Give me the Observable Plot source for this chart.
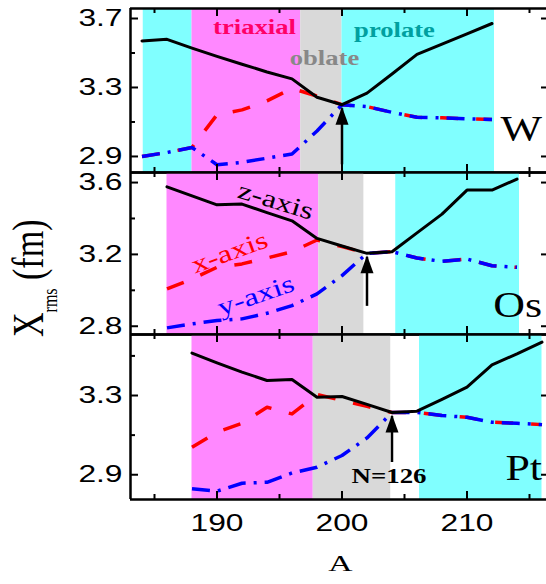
<!DOCTYPE html>
<html><head><meta charset="utf-8">
<script src="https://cdn.jsdelivr.net/npm/d3@7"></script>
<script src="https://cdn.jsdelivr.net/npm/@observablehq/plot@0.6"></script>
<style>
body{margin:0;background:#fff}
#chart{position:relative;width:546px;height:584px;overflow:hidden;background:#fff}
#chart svg{position:absolute;left:0}
</style>
</head><body><div id="chart"></div>
<script>
// ---------- data ----------
const xDomain = [183.08, 216.36];
const xMajor = [190, 200, 210];
const xMinor = [185, 195, 205, 215];

// W
const W_A = [184,186,188,190,192,194,196,198,200,202,204,206,208,210,212];
const W_z = [3.570,3.579,3.528,3.480,3.435,3.390,3.350,3.243,3.200,3.267,3.378,3.492,3.552,3.611,3.671];
const W_x = [2.900,2.923,2.952,3.142,3.170,3.222,3.295,3.250,3.200,3.189,3.156,3.127,3.124,3.118,3.114];
const W_y = [2.900,2.923,2.952,2.852,2.866,2.890,2.914,3.048,3.200,3.189,3.156,3.127,3.124,3.118,3.114];
const W_bandStart = [184.1, 188, 196.7, 200];
const W_bandEnd   = [188, 196.7, 200, 212.2];
const W_bandColor = ["#80ffff", "#ff88ff", "#d9d9d9", "#80ffff"];
const W_yDomain = [2.807, 3.758];
const W_yMajor = [2.9, 3.3, 3.7];
const W_yMinor = [3.1, 3.5];

// Os
const Os_A = [186,188,190,192,194,196,198,200,202,204,206,208,210,212,214];
const Os_z = [3.576,3.526,3.476,3.480,3.433,3.387,3.289,3.247,3.206,3.215,3.320,3.424,3.558,3.558,3.619];
const Os_x = [3.008,3.063,3.128,3.147,3.180,3.215,3.280,3.243,3.206,3.215,3.180,3.161,3.174,3.137,3.128];
const Os_y = [2.791,2.813,2.832,2.841,2.872,2.915,2.980,3.082,3.206,3.215,3.180,3.161,3.174,3.137,3.128];
const Os_bandStart = [186, 198.15, 204.3];
const Os_bandEnd   = [198.15, 201.75, 214.2];
const Os_bandColor = ["#ff88ff", "#d9d9d9", "#80ffff"];
const Os_yDomain = [2.754, 3.656];
const Os_yMajor = [2.8, 3.2, 3.6];
const Os_yMinor = [3.0, 3.4];

// Pt
const Pt_A = [188,190,192,194,196,198,200,202,204,206,208,210,212,214,216];
const Pt_z = [3.514,3.465,3.418,3.376,3.381,3.291,3.295,3.255,3.214,3.221,3.280,3.342,3.455,3.510,3.570];
const Pt_x = [3.039,3.115,3.160,3.241,3.207,3.305,3.275,3.245,3.214,3.215,3.199,3.190,3.165,3.160,3.153];
const Pt_y = [2.829,2.817,2.857,2.862,2.909,2.938,2.997,3.086,3.214,3.215,3.199,3.190,3.165,3.160,3.153];
const Pt_bandStart = [188, 197.7, 206.2];
const Pt_bandEnd   = [197.7, 203.9, 216];
const Pt_bandColor = ["#ff88ff", "#d9d9d9", "#80ffff"];
const Pt_yDomain = [2.775, 3.608];
const Pt_yMajor = [2.9, 3.3];
const Pt_yMinor = [3.1, 3.5];

// arrows (N = 126)
const arrowA    = [200, 202, 204];
const arrowTip  = [3.200, 3.206, 3.214];
const arrowBase = [2.875, 2.933, 2.982];

// annotations
const shapeLabels = ["triaxial", "oblate", "prolate"];
const shapeLabelA = [193.0, 198.6, 204.2];
const shapeLabelV = [3.646, 3.469, 3.632];
const shapeLabelColor = ["#ff0066", "#888888", "#00a0a0"];

const axisLabels = ["z-axis", "x-axis", "y-axis"];
const axisLabelA = [194.7, 191.0, 193.1];
const axisLabelV = [3.498, 3.211, 2.971];
const axisLabelColor = ["#000000", "#ff0000", "#0000ff"];
const axisLabelRotate = [17, -20, -19];

const elements = ["W", "Os", "Pt"];
const elementV = [3.055, 2.915, 2.934];

// ---------- drawing ----------
const arrowHead = {draw(ctx) { ctx.moveTo(0, 0); ctx.lineTo(6.5, 18); ctx.lineTo(-6.5, 18); ctx.closePath(); }};
const FW = 546 - 130;

function panel(p) {
  const rows = p.A.map((a, i) => ({A: a, z: p.z[i], x: p.x[i], y: p.y[i]}));
  const bands = p.bandStart.map((s, i) => ({x1: s, x2: p.bandEnd[i], fill: p.bandColor[i]}));
  const arrow = {A: arrowA[p.k], tip: arrowTip[p.k], base: arrowBase[p.k]};
  const fh = p.height - p.marginTop - p.marginBottom;
  const marks = [
    Plot.rect(bands, {x1: "x1", x2: "x2", y1: () => p.yDomain[0], y2: () => p.yDomain[1], fill: "fill"}),
    Plot.line(rows, {x: "A", y: "x", stroke: "#ff0000", strokeWidth: 3.5, strokeDasharray: "18,18", strokeLinecap: "butt"}),
    Plot.line(rows, {x: "A", y: "y", stroke: "#0000ff", strokeWidth: 3.5, strokeDasharray: "18,8,3,8", strokeLinecap: "butt"}),
    Plot.line(rows, {x: "A", y: "z", stroke: "#000", strokeWidth: 3}),
    Plot.ruleX([arrow], {x: "A", y1: "base", y2: "tip", strokeWidth: 2.5, dy: 4}),
    Plot.dot([arrow], {x: "A", y: "tip", symbol: arrowHead, fill: "#000", stroke: "none", dy: 2}),
    Plot.text([elements[p.k]], {x: () => 216.0, y: () => elementV[p.k], text: d => d, textAnchor: "end",
      fontFamily: "Liberation Serif", fontSize: 36, fill: "#000", ariaDescription: "stretch:1.22"}),
    ...(p.extra || []),
    Plot.tickY(p.yMajor, {y: d => d, insetRight: FW - 8, strokeWidth: 2}),
    Plot.tickY(p.yMinor, {y: d => d, insetRight: FW - 5, strokeWidth: 2}),
    Plot.tickY(p.yMajor, {y: d => d, insetLeft: FW - 5, strokeWidth: 2}),
    Plot.tickX(xMajor, {x: d => d, insetBottom: fh - 8, strokeWidth: 2}),
    Plot.tickX(xMinor, {x: d => d, insetBottom: fh - 5, strokeWidth: 2}),
    Plot.tickX(xMajor, {x: d => d, insetTop: fh - 8, strokeWidth: 2}),
    Plot.tickX(xMinor, {x: d => d, insetTop: fh - 5, strokeWidth: 2}),
    Plot.axisY({ticks: p.yMajor, tickSize: 0, tickPadding: 8, tickFormat: d => d.toFixed(1), label: null, fontSize: 24}),
    Plot.ruleY([p.yDomain[1]], {strokeWidth: 2.5}),
    Plot.ruleY([p.yDomain[0]], {strokeWidth: 2.5}),
    Plot.ruleX([xDomain[0]], {strokeWidth: 2.5})
  ];
  if (p.bottom) {
    marks.push(Plot.axisX({ticks: xMajor, tickSize: 0, tickPadding: 14, tickFormat: d => String(d), label: null, fontSize: 24}));
    marks.push(Plot.text(["A"], {frameAnchor: "bottom", dy: 64, dx: 2, lineAnchor: "middle", text: d => d,
      fontFamily: "Liberation Serif", fontSize: 24, fill: "#000", ariaDescription: "stretch:1.4"}));
  }
  const svg = Plot.plot({
    width: 546, height: p.height,
    marginLeft: 130, marginRight: 0, marginTop: p.marginTop, marginBottom: p.marginBottom,
    x: {domain: xDomain, axis: null, label: null},
    y: {domain: p.yDomain, axis: null, label: null},
    color: {type: "identity"},
    style: {fontFamily: "Liberation Sans", fontSize: "24px", background: "transparent", overflow: "visible", color: "#000"},
    marks
  });
  svg.style.top = p.top + "px";
  return svg;
}

const chart = document.getElementById("chart");

chart.append(panel({
  k: 0, A: W_A, z: W_z, x: W_x, y: W_y,
  bandStart: W_bandStart, bandEnd: W_bandEnd, bandColor: W_bandColor,
  yDomain: W_yDomain, yMajor: W_yMajor, yMinor: W_yMinor,
  top: 0, height: 172, marginTop: 8, marginBottom: 0,
  extra: [
    Plot.text(shapeLabels, {x: (d, i) => shapeLabelA[i], y: (d, i) => shapeLabelV[i], text: d => d,
      fill: (d, i) => shapeLabelColor[i], fontFamily: "Liberation Serif", fontWeight: "bold", fontSize: 20,
      ariaDescription: "stretch:1.33"})
  ]
}));

chart.append(panel({
  k: 1, A: Os_A, z: Os_z, x: Os_x, y: Os_y,
  bandStart: Os_bandStart, bandEnd: Os_bandEnd, bandColor: Os_bandColor,
  yDomain: Os_yDomain, yMajor: Os_yMajor, yMinor: Os_yMinor,
  top: 172, height: 162, marginTop: 0, marginBottom: 0,
  extra: axisLabels.map((s, i) => Plot.text([s], {x: () => axisLabelA[i], y: () => axisLabelV[i], text: d => d,
      fill: axisLabelColor[i], rotate: axisLabelRotate[i], fontFamily: "Liberation Serif", fontSize: 25,
      ariaDescription: "stretch:1.3"}))
}));

chart.append(panel({
  k: 2, A: Pt_A, z: Pt_z, x: Pt_x, y: Pt_y,
  bandStart: Pt_bandStart, bandEnd: Pt_bandEnd, bandColor: Pt_bandColor,
  yDomain: Pt_yDomain, yMajor: Pt_yMajor, yMinor: Pt_yMinor,
  top: 334, height: 250, marginTop: 0, marginBottom: 85, bottom: true,
  extra: [
    Plot.text(["N=126"], {x: () => 203.76, y: () => 2.891, text: d => d, fontFamily: "Liberation Serif",
      fontWeight: "bold", fontSize: 21, fill: "#000", ariaDescription: "stretch:1.28"})
  ]
}));

// y-axis title
const NS = "http://www.w3.org/2000/svg";
const ov = document.createElementNS(NS, "svg");
ov.setAttribute("width", 546); ov.setAttribute("height", 584);
ov.style.top = "0px"; ov.style.pointerEvents = "none";
const t = document.createElementNS(NS, "text");
t.setAttribute("transform", "translate(42.5,337) scale(1.3,1) rotate(-90)");
t.setAttribute("font-family", "Liberation Serif");
t.setAttribute("font-size", 34);
const s1 = document.createElementNS(NS, "tspan"); s1.textContent = "X";
const s2 = document.createElementNS(NS, "tspan"); s2.textContent = "rms"; s2.setAttribute("font-size", 16); s2.setAttribute("dy", 11);
const s3 = document.createElementNS(NS, "tspan"); s3.textContent = " (fm)"; s3.setAttribute("dy", -11);
t.append(s1, s2, s3);
ov.append(t);
chart.append(ov);

// horizontal stretch of glyphs, as in the reference
function stretch(el, f) {
  const L = el.getComputedTextLength();
  el.setAttribute("textLength", (L * f).toFixed(1));
  el.setAttribute("lengthAdjust", "spacingAndGlyphs");
}
chart.querySelectorAll("[aria-description^='stretch']").forEach(g => {
  const f = +g.getAttribute("aria-description").split(":")[1];
  g.querySelectorAll("text").forEach(el => stretch(el, f));
});
chart.querySelectorAll("g[aria-label='y-axis tick label'] text, g[aria-label='x-axis tick label'] text")
  .forEach(el => stretch(el, 1.32));
</script></body></html>
